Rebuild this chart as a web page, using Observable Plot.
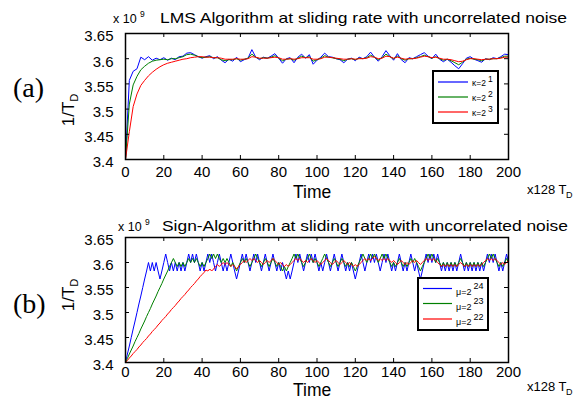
<!DOCTYPE html>
<html><head><meta charset="utf-8">
<script src="https://cdn.jsdelivr.net/npm/d3@7"></script>
<script src="https://cdn.jsdelivr.net/npm/@observablehq/plot@0.6"></script>
<style>
body{margin:0;background:#fff;}
#root{position:relative;width:584px;height:401px;overflow:hidden;background:#fff;font-family:"Liberation Sans",Arial,sans-serif;}
#root svg{position:absolute;left:0;}
</style></head><body><div id="root"></div>
<script>
// ---------- data ----------
const xTicks = [0, 20, 40, 60, 80, 100, 120, 140, 160, 180, 200];
const yTicks = [3.4, 3.45, 3.5, 3.55, 3.6, 3.65];
const yTickLabels = ["3.4", "3.45", "3.5", "3.55", "3.6", "3.65"];
const lmsTime = d3.range(0, 201, 2);   // x128 T_D
const signTime = d3.range(0, 201, 1);  // x128 T_D

// LMS, 1/T_D (x 10^9), sampled every 2 time units
const lmsK1 = [
 3.4,3.557,3.575,3.58,3.603,3.598,3.604,3.597,3.601,3.598,
 3.602,3.597,3.601,3.598,3.604,3.605,3.611,3.612,3.608,3.604,
 3.601,3.604,3.606,3.6,3.604,3.597,3.592,3.599,3.595,3.603,
 3.594,3.598,3.601,3.618,3.603,3.598,3.603,3.601,3.605,3.61,
 3.601,3.591,3.6,3.602,3.592,3.603,3.609,3.601,3.608,3.589,
 3.597,3.603,3.611,3.604,3.603,3.6,3.598,3.592,3.599,3.601,
 3.596,3.603,3.6,3.604,3.613,3.603,3.595,3.604,3.616,3.606,
 3.597,3.61,3.598,3.592,3.602,3.6,3.604,3.608,3.612,3.605,
 3.6,3.609,3.599,3.594,3.599,3.593,3.586,3.58,3.59,3.601,
 3.604,3.599,3.596,3.593,3.6,3.598,3.602,3.6,3.604,3.609,
 3.608];
const lmsK2 = [
 3.4,3.51,3.548,3.565,3.578,3.585,3.591,3.595,3.597,3.598,
 3.599,3.598,3.6,3.6,3.602,3.604,3.608,3.609,3.607,3.604,
 3.602,3.603,3.604,3.602,3.602,3.598,3.596,3.598,3.598,3.6,
 3.597,3.599,3.601,3.609,3.603,3.6,3.602,3.601,3.603,3.606,
 3.601,3.596,3.599,3.6,3.597,3.601,3.605,3.602,3.604,3.595,
 3.598,3.601,3.606,3.603,3.602,3.6,3.599,3.596,3.599,3.6,
 3.598,3.601,3.6,3.602,3.607,3.603,3.598,3.602,3.609,3.604,
 3.6,3.605,3.6,3.597,3.6,3.6,3.602,3.604,3.607,3.604,
 3.601,3.604,3.6,3.597,3.599,3.596,3.592,3.588,3.593,3.599,
 3.601,3.599,3.598,3.596,3.599,3.599,3.6,3.6,3.602,3.605,
 3.605];
const lmsK3 = [
 3.4,3.455,3.505,3.53,3.547,3.557,3.566,3.573,3.579,3.584,
 3.588,3.591,3.593,3.595,3.597,3.599,3.6,3.602,3.603,3.604,
 3.604,3.603,3.603,3.602,3.602,3.601,3.599,3.599,3.599,3.6,
 3.599,3.599,3.6,3.604,3.603,3.601,3.601,3.601,3.602,3.603,
 3.602,3.599,3.599,3.6,3.599,3.6,3.602,3.602,3.602,3.599,
 3.599,3.6,3.603,3.603,3.602,3.601,3.6,3.599,3.599,3.6,
 3.599,3.6,3.6,3.601,3.604,3.603,3.6,3.601,3.605,3.604,
 3.601,3.603,3.601,3.599,3.6,3.6,3.601,3.603,3.605,3.604,
 3.602,3.603,3.601,3.599,3.599,3.598,3.596,3.594,3.595,3.598,
 3.6,3.6,3.599,3.598,3.599,3.599,3.6,3.6,3.601,3.603,
 3.603];

// Sign algorithm, 1/T_D (x 10^9), every time unit
const signMu24 = [
 3.4,3.417,3.433,3.45,3.467,3.483,3.5,3.517,3.533,3.55,
 3.567,3.583,3.6,3.583,3.6,3.583,3.6,3.583,3.567,3.583,
 3.6,3.617,3.6,3.583,3.6,3.583,3.6,3.583,3.6,3.583,
 3.6,3.583,3.6,3.617,3.6,3.617,3.6,3.617,3.6,3.583,
 3.6,3.583,3.6,3.617,3.6,3.617,3.6,3.583,3.6,3.617,
 3.6,3.583,3.6,3.583,3.6,3.617,3.6,3.583,3.567,3.583,
 3.6,3.617,3.6,3.617,3.6,3.583,3.6,3.617,3.6,3.617,
 3.6,3.583,3.6,3.617,3.6,3.583,3.6,3.617,3.6,3.583,
 3.6,3.583,3.6,3.583,3.567,3.583,3.567,3.583,3.6,3.617,
 3.6,3.617,3.6,3.583,3.6,3.617,3.6,3.617,3.6,3.617,
 3.6,3.583,3.6,3.583,3.6,3.617,3.6,3.583,3.6,3.617,
 3.6,3.583,3.6,3.617,3.6,3.583,3.6,3.583,3.6,3.583,
 3.567,3.583,3.6,3.617,3.6,3.583,3.6,3.617,3.6,3.617,
 3.6,3.617,3.6,3.583,3.6,3.617,3.6,3.617,3.6,3.583,
 3.6,3.583,3.6,3.617,3.6,3.583,3.6,3.583,3.6,3.617,
 3.6,3.583,3.6,3.583,3.567,3.583,3.6,3.617,3.6,3.617,
 3.6,3.617,3.6,3.617,3.6,3.583,3.6,3.583,3.6,3.583,
 3.6,3.583,3.6,3.583,3.6,3.617,3.6,3.583,3.6,3.583,
 3.6,3.583,3.6,3.583,3.6,3.583,3.6,3.583,3.6,3.617,
 3.6,3.617,3.6,3.617,3.6,3.583,3.6,3.583,3.6,3.617,
 3.6];
const signMu23 = [
 3.4,3.408,3.417,3.425,3.433,3.442,3.45,3.458,3.467,3.475,
 3.483,3.492,3.5,3.508,3.517,3.525,3.533,3.542,3.55,3.558,
 3.567,3.575,3.583,3.592,3.6,3.608,3.6,3.592,3.6,3.592,
 3.6,3.592,3.6,3.608,3.6,3.608,3.6,3.608,3.6,3.592,
 3.6,3.592,3.6,3.608,3.617,3.608,3.617,3.608,3.617,3.608,
 3.6,3.608,3.6,3.608,3.6,3.592,3.6,3.592,3.583,3.592,
 3.6,3.608,3.6,3.608,3.6,3.592,3.6,3.608,3.617,3.608,
 3.6,3.592,3.6,3.608,3.6,3.592,3.6,3.608,3.6,3.592,
 3.6,3.592,3.583,3.592,3.583,3.592,3.6,3.608,3.617,3.608,
 3.617,3.608,3.6,3.592,3.6,3.608,3.617,3.608,3.6,3.608,
 3.6,3.592,3.6,3.608,3.617,3.608,3.6,3.592,3.6,3.608,
 3.6,3.592,3.6,3.608,3.6,3.592,3.6,3.592,3.6,3.592,
 3.583,3.592,3.6,3.608,3.617,3.608,3.6,3.608,3.617,3.608,
 3.617,3.608,3.6,3.608,3.617,3.608,3.617,3.608,3.6,3.592,
 3.6,3.592,3.6,3.608,3.6,3.592,3.6,3.592,3.6,3.608,
 3.6,3.608,3.6,3.592,3.583,3.592,3.6,3.608,3.617,3.608,
 3.617,3.608,3.6,3.608,3.6,3.592,3.6,3.592,3.6,3.592,
 3.6,3.592,3.6,3.592,3.6,3.608,3.6,3.592,3.6,3.592,
 3.6,3.592,3.6,3.592,3.6,3.592,3.6,3.592,3.6,3.608,
 3.617,3.608,3.617,3.608,3.6,3.592,3.6,3.592,3.6,3.608,
 3.6];
const signMu22 = [
 3.4,3.404,3.409,3.413,3.418,3.422,3.426,3.431,3.435,3.44,
 3.444,3.448,3.453,3.457,3.462,3.466,3.47,3.475,3.479,3.484,
 3.488,3.492,3.497,3.501,3.506,3.51,3.514,3.519,3.523,3.528,
 3.532,3.536,3.541,3.545,3.55,3.554,3.558,3.563,3.567,3.572,
 3.576,3.58,3.585,3.583,3.587,3.583,3.587,3.592,3.596,3.592,
 3.596,3.6,3.596,3.6,3.596,3.592,3.596,3.592,3.587,3.592,
 3.596,3.6,3.604,3.6,3.604,3.608,3.604,3.608,3.604,3.6,
 3.604,3.6,3.596,3.6,3.604,3.6,3.604,3.608,3.604,3.6,
 3.596,3.6,3.596,3.592,3.596,3.592,3.596,3.6,3.604,3.608,
 3.604,3.608,3.604,3.6,3.604,3.6,3.604,3.608,3.604,3.6,
 3.604,3.6,3.596,3.6,3.604,3.608,3.604,3.6,3.596,3.6,
 3.604,3.6,3.596,3.6,3.604,3.6,3.596,3.6,3.596,3.592,
 3.596,3.592,3.596,3.6,3.604,3.608,3.604,3.608,3.604,3.608,
 3.612,3.608,3.604,3.608,3.604,3.608,3.604,3.608,3.604,3.6,
 3.604,3.6,3.596,3.6,3.604,3.6,3.596,3.6,3.596,3.6,
 3.604,3.6,3.604,3.6,3.596,3.6,3.604,3.608,3.604,3.608,
 3.604,3.608,3.604,3.6,3.596,3.592,3.596,3.592,3.596,3.592,
 3.596,3.592,3.596,3.592,3.596,3.6,3.596,3.592,3.596,3.592,
 3.596,3.592,3.596,3.592,3.596,3.592,3.596,3.6,3.604,3.608,
 3.604,3.608,3.604,3.608,3.604,3.6,3.596,3.6,3.596,3.6,
 3.604];

const seriesColors = ["#0000ff", "#008000", "#ff0000"];
const lmsLegend = [["κ=2", "1"], ["κ=2", "2"], ["κ=2", "3"]];
const signLegend = [["μ=2", "24"], ["μ=2", "23"], ["μ=2", "22"]];
const lmsTitle = "LMS Algorithm at sliding rate with uncorrelated noise";
const signTitle = "Sign-Algorithm at sliding rate with uncorrelated noise";

// ---------- drawing ----------
const root = document.getElementById("root");
const FONT = "'Liberation Sans', Arial, sans-serif";
const ML = 125, MR = 76, PW = 584 - ML - MR;

function panel(time, seriesList, {top, height, mt, mb, xPad}) {
  const PH = height - mt - mb;
  const tick = 4;
  const marks = seriesList.map((vals, i) =>
    Plot.line(time.map((t, j) => ({t, v: vals[j]})).filter(d => d.v != null),
      {x: "t", y: "v", stroke: seriesColors[i], strokeWidth: 1})
  );
  marks.push(
    Plot.tickY(yTicks, {y: d => d, insetRight: PW - tick, stroke: "black"}),
    Plot.tickY(yTicks, {y: d => d, insetLeft: PW - tick, stroke: "black"}),
    Plot.tickX(xTicks, {x: d => d, insetTop: PH - tick, stroke: "black"}),
    Plot.tickX(xTicks, {x: d => d, insetBottom: PH - tick, stroke: "black"}),
    Plot.frame({stroke: "black", strokeWidth: 1.5}),
    Plot.axisX({ticks: xTicks, tickSize: 0, tickPadding: xPad, label: null}),
    Plot.axisY({ticks: yTicks, tickSize: 0, tickPadding: 12, label: null, dy: 3,
      tickFormat: d => yTickLabels[yTicks.indexOf(d)] ?? String(d)})
  );
  const svg = Plot.plot({
    width: 584, height,
    marginLeft: ML, marginRight: MR, marginTop: mt, marginBottom: mb,
    x: {domain: [0, 200]},
    y: {domain: [3.4, 3.65]},
    style: {fontFamily: FONT, fontSize: "15px", background: "transparent", color: "black", overflow: "visible"},
    marks
  });
  svg.style.top = top + "px";
  root.appendChild(svg);
}

panel(lmsTime, [lmsK1, lmsK2, lmsK3], {top: 0, height: 200, mt: 33, mb: 41, xPad: 7});
panel(signTime, [signMu24, signMu23, signMu22], {top: 200, height: 201, mt: 37, mb: 39, xPad: 4});

// ---------- annotations ----------
const ov = d3.select(root).append("svg")
  .attr("width", 584).attr("height", 401)
  .style("top", "0px").style("pointer-events", "none")
  .style("font-family", FONT).attr("fill", "black");

function txt(x, y, s, size, extra = {}) {
  const t = ov.append("text").attr("x", x).attr("y", y).attr("font-size", size).text(s);
  for (const k in extra) t.attr(k, extra[k]);
  return t;
}

// titles
[[lmsTitle, 113, 160, 23, 407], [signTitle, 118, 162, 230.5, 406]].forEach(([title, xx, tx, by, len]) => {
  txt(xx, by, "x 10", 12.5);
  txt(xx + 27, by - 6, "9", 8.5);
  txt(tx, by, title, 14.5, {textLength: len, lengthAdjust: "spacingAndGlyphs"});
});

// panel letters
txt(13, 97, "(a)", 28, {"font-family": "'Liberation Serif', 'Times New Roman', serif"});
txt(13, 313, "(b)", 28, {"font-family": "'Liberation Serif', 'Times New Roman', serif"});

// x labels
[[197.5, 194], [396, 391]].forEach(([ty, uy]) => {
  txt(293, ty, "Time", 17.5);
  txt(527, uy, "x128 T", 13);
  txt(566, uy + 4, "D", 9);
});

// y labels (rotated)
[[74, 110], [74, 295]].forEach(([x, cy]) => {
  const g = ov.append("g").attr("transform", `translate(${x},${cy}) rotate(-90)`);
  const t = g.append("text").attr("text-anchor", "middle").attr("font-size", 17);
  t.append("tspan").text("1/T");
  t.append("tspan").attr("font-size", 11).attr("dy", 4).text("D");
});

// legends
function legend(x, y, w, h, lineX1, lineX2, rows, labels, textX, textDy, supDy, size, supSize) {
  ov.append("rect").attr("x", x).attr("y", y).attr("width", w).attr("height", h)
    .attr("fill", "white").attr("stroke", "black").attr("stroke-width", 2);
  rows.forEach((ry, i) => {
    ov.append("line").attr("x1", lineX1).attr("x2", lineX2).attr("y1", ry).attr("y2", ry)
      .attr("stroke", seriesColors[i]).attr("stroke-width", 1.2);
    const t = ov.append("text").attr("x", textX).attr("y", ry + textDy).attr("font-size", size);
    t.append("tspan").text(labels[i][0]);
    t.append("tspan").attr("font-size", supSize).attr("dx", 2).attr("dy", supDy).text(labels[i][1]);
  });
}
legend(433, 71, 65, 52, 438, 468, [82, 97, 112], lmsLegend, 472, 3.5, -3.5, 8.5, 8.5);
legend(418, 278, 70, 52, 423, 452, [288.5, 303.5, 319], signLegend, 456, 6, -5.5, 9, 9);
</script></body></html>
